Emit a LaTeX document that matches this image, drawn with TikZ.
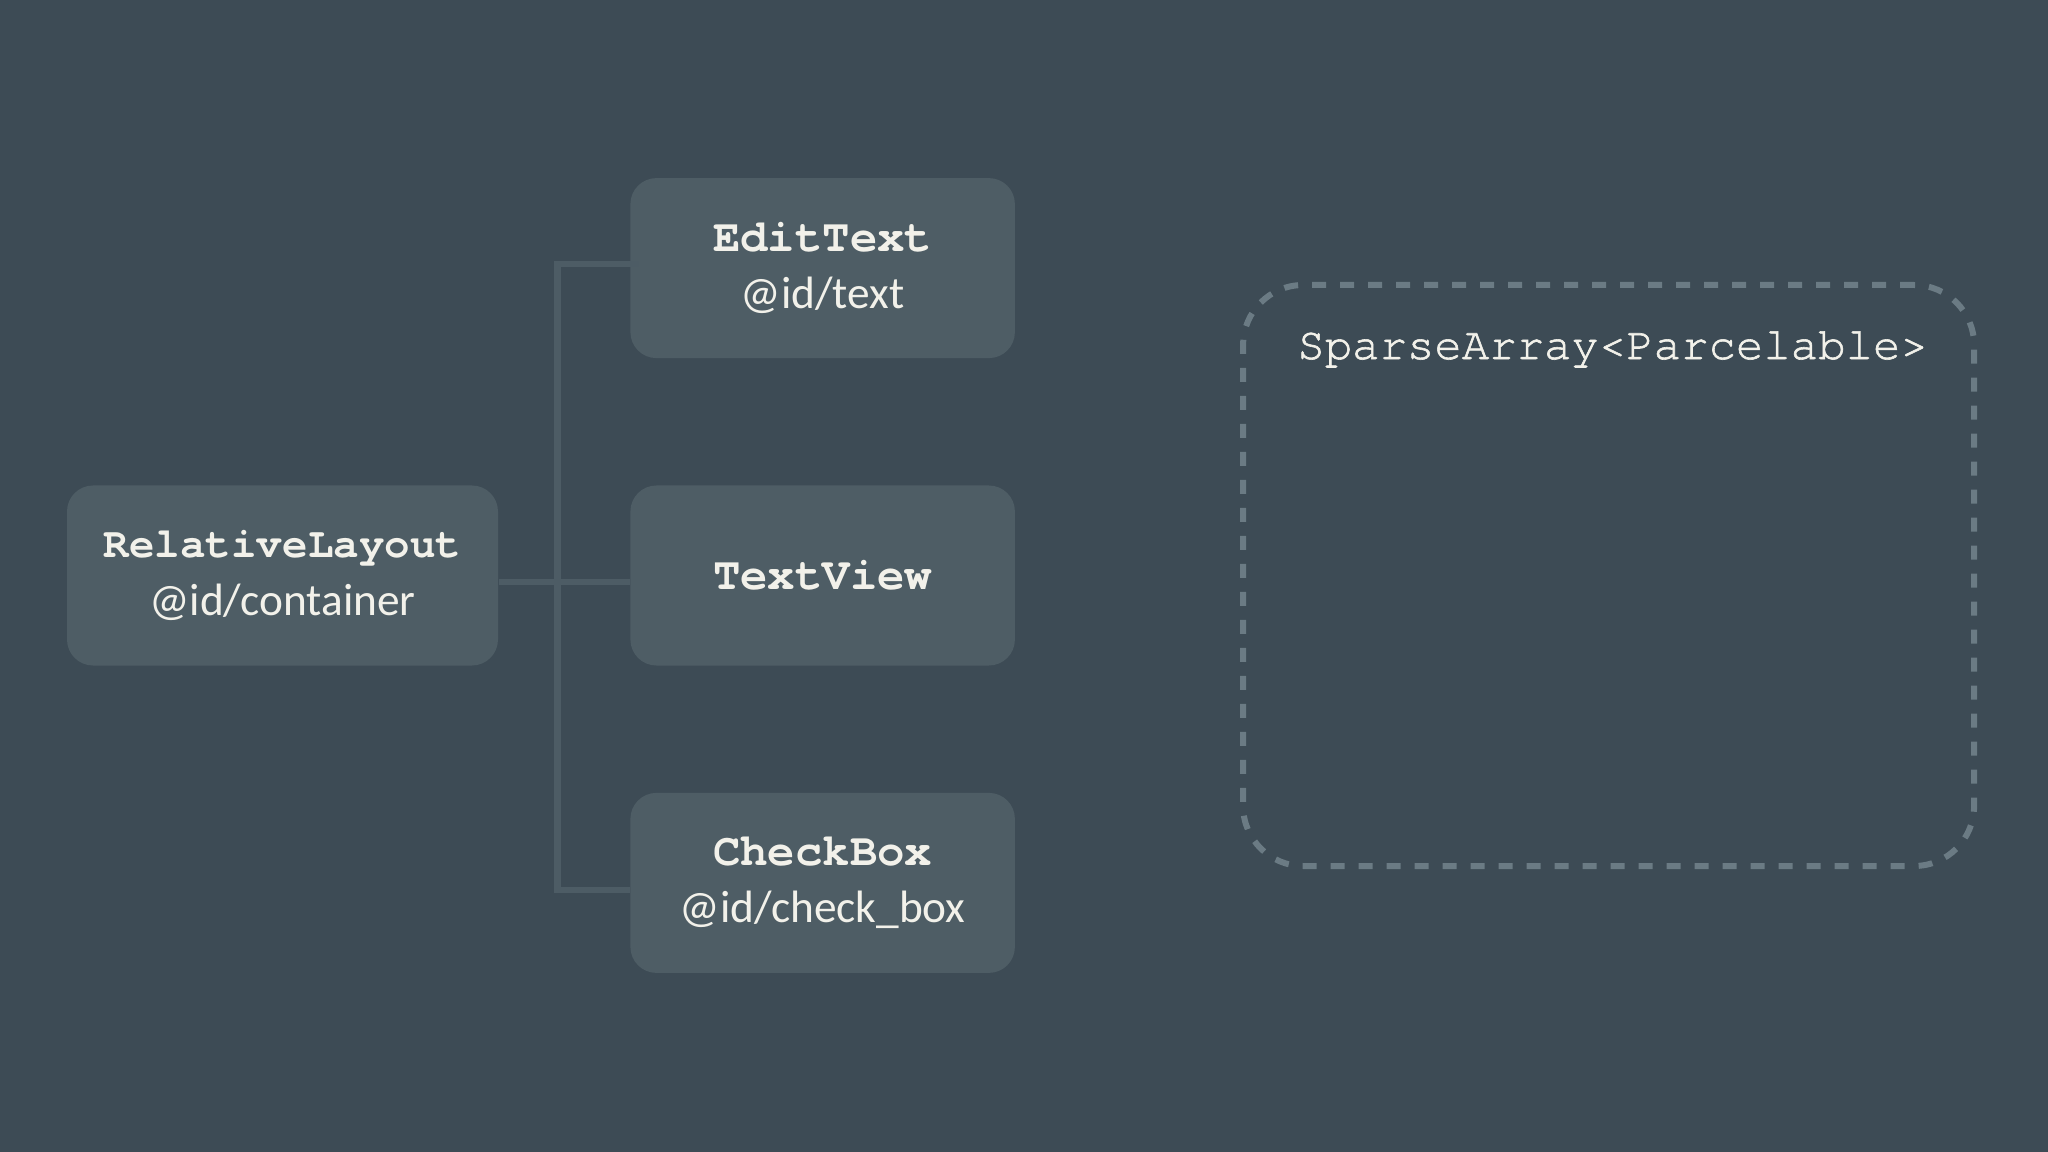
\documentclass[tikz,border=0pt]{standalone}
\usepackage{fontspec}
\usetikzlibrary{positioning, calc}

\newfontfamily\codefont{TeX Gyre Cursor}
\newfontfamily\plaincode[FakeBold=1.3]{TeX Gyre Cursor}
\newfontfamily\idfont{Carlito}

\definecolor{bgcolor}{HTML}{3D4B55}
\definecolor{boxfill}{HTML}{4E5D65}
\definecolor{wire}{HTML}{4D5C65}
\definecolor{dashcolor}{HTML}{6B7B84}
\definecolor{ink}{HTML}{F2F1EA}

\begin{document}
\begin{tikzpicture}
    \tikzstyle{view} = [fill=boxfill, rounded corners=2.6mm, inner sep=0pt, text=ink, align=center, minimum width=3.845cm, minimum height=1.8cm, font=\fontsize{13}{16.4}\selectfont];
    \tikzstyle{bundle} = [draw=dashcolor, line width=0.6mm, dash pattern=on 1.4mm off 1.4mm, rounded corners=6mm, minimum width=7.31cm, minimum height=5.81cm, inner sep=0pt];
    \tikzstyle{wiring} = [draw=wire, line width=0.65mm];

    \fill[bgcolor] (0, 0) rectangle (20.48, -11.52);
    \useasboundingbox (0, 0) rectangle (20.48, -11.52);

    \node[view, minimum width=4.31cm] at (2.825, -5.755) (layout) {{\codefont\bfseries\fontsize{12.1}{16.4}\selectfont RelativeLayout}\\{\idfont\fontsize{12.9}{16.4}\selectfont @id/container}};
    \node[view, right = 1.31 of layout] (textview) {{\codefont\bfseries TextView}};
    \node[view, above = 1.26 of textview] (edittext) {{\codefont\bfseries EditText}\\{\idfont\fontsize{12.9}{16.4}\selectfont @id/text}};
    \node[view, below = 1.26 of textview] (checkbox) {{\codefont\bfseries CheckBox}\\{\idfont\fontsize{12.9}{16.4}\selectfont @id/check\_box}};

    \node[bundle, right = 2.245 of textview] (sparse) {};
    \node[text=ink, font=\plaincode\fontsize{13}{16.4}\selectfont, below = 0.37 of sparse.north, xshift=0.04cm] (sparsetitle) {SparseArray<Parcelable>};

    \coordinate (bus) at ($(layout.east)!0.45!(textview.west)$);

    \draw[wiring] ([yshift=-0.65mm]layout.east) -- ([yshift=-0.65mm]textview.west);
    \draw[wiring] ([xshift=0.9mm, yshift=0.4mm]edittext.west) -| ([yshift=-0.7mm]bus |- checkbox.west) -- ([yshift=-0.7mm]checkbox.west);
\end{tikzpicture}
\end{document}
